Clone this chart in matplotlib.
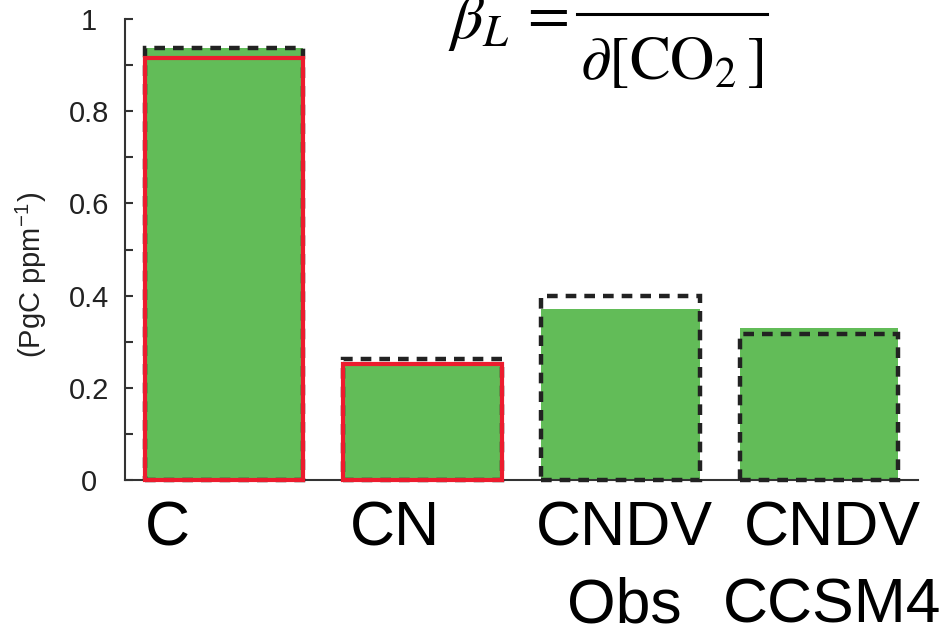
import numpy as np
import matplotlib
matplotlib.use('Agg')
import matplotlib.pyplot as plt
from matplotlib.lines import Line2D

plt.rcParams['font.family'] = ['Liberation Sans', 'DejaVu Sans']
plt.rcParams['mathtext.fontset'] = 'stix'

# values (PgC ppm^-1)
categories = ['C', 'CN', 'CNDV\nObs', 'CNDV\nCCSM4']
green_vals = [0.937, 0.255, 0.371, 0.330]   # filled bars
red_vals = [0.915, 0.252]                   # red outlined boxes (C, CN)
dashed_vals = [0.937, 0.262, 0.399, 0.317]  # dashed outlines
yticks = [0, 0.2, 0.4, 0.6, 0.8, 1]
ytick_labels = ['0', '0.2', '0.4', '0.6', '0.8', '1']

GREEN = '#62bc58'
RED = '#ec1c2e'
DARK = '#222222'


def main():
    fig = plt.figure(figsize=(9.42, 6.34), dpi=100)
    ax = fig.add_axes([0.1327, 0.2429, 0.8418, 0.727])

    x = np.arange(len(categories))
    width = 0.8

    ax.bar(x, green_vals, width, color=GREEN, edgecolor='none', zorder=2)
    ax.bar(x, dashed_vals, width, facecolor='none', edgecolor=DARK,
           linewidth=3.2, linestyle=(0, (2.4, 1.8)), zorder=4, clip_on=False)
    ax.bar(x[:len(red_vals)], red_vals, width, facecolor='none',
           edgecolor=RED, linewidth=3.0, zorder=5, clip_on=False)

    ax.set_xlim(-0.5, 3.5)
    ax.set_ylim(0, 1)

    for side in ['top', 'right']:
        ax.spines[side].set_visible(False)
    for side in ['left', 'bottom']:
        ax.spines[side].set_color('#333333')
        ax.spines[side].set_linewidth(1.5)

    ax.set_yticks(yticks)
    ax.set_yticklabels(ytick_labels, fontsize=21, color=DARK)
    ax.set_yticks(np.arange(0.1, 1.0, 0.2), minor=True)
    ax.tick_params(axis='y', which='both', direction='in', length=6,
                   width=1.5, color='#333333', pad=26)
    for lbl in ax.get_yticklabels():
        lbl.set_horizontalalignment('center')
    ax.set_xticks([])

    ax.text(-0.117, 0.445, '(PgC ppm$^{\\mathregular{-1}}$)', transform=ax.transAxes,
            rotation=90, ha='center', va='center', fontsize=21, color=DARK)

    # category labels below the bars
    label_offsets = [-0.288, -0.138, 0.02, 0.066]
    trans = ax.get_xaxis_transform()
    for xi, name, off in zip(x, categories, label_offsets):
        ax.text(xi + off, -0.042, name, transform=trans, ha='center', va='top',
                fontsize=45, color='black', linespacing=1.4)

    # equation at the top, partly cut off by the figure edge
    fig.text(448 / 942, 1 - 38 / 634, r'$\beta_L$', fontsize=46,
             ha='left', va='baseline', color='black')
    fig.text(544 / 942, 1 - 16 / 634, r'$=$', fontsize=44,
             ha='center', va='center', color='black')
    fig.add_artist(Line2D([577 / 942, 767 / 942], [1 - 14 / 634, 1 - 14 / 634],
                          color='black', linewidth=2.2))
    fig.text(672 / 942, 1 - 79 / 634, r'$\partial[\mathrm{CO}_2\,]$', fontsize=44,
             ha='center', va='baseline', color='black')
    fig.text(672 / 942, 1 - 4 / 634, r'$\partial C_L$', fontsize=44,
             ha='center', va='bottom', color='black')

    fig.savefig('out.png', dpi=100)


if __name__ == '__main__':
    main()
